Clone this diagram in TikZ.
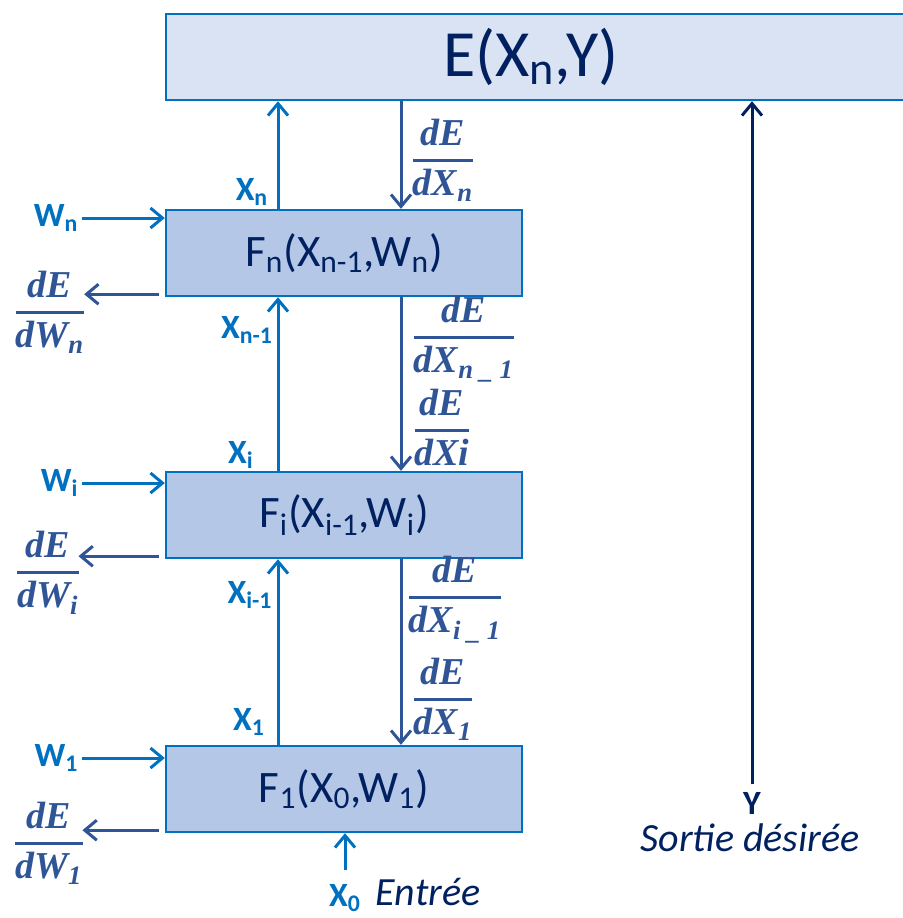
\documentclass[tikz,border=0pt]{standalone}
\usepackage{amsmath,amssymb}
\usepackage{fontspec}
\setmainfont{Carlito}
\newfontfamily\gradfont{Liberation Serif}
\usetikzlibrary{arrows.meta,positioning}

\definecolor{lightblue}{HTML}{0070C0}
\definecolor{darkblue}{HTML}{2F5597}
\definecolor{navy}{HTML}{002060}
\definecolor{costfill}{HTML}{DAE3F3}
\definecolor{layerfill}{HTML}{B4C7E7}

\newcommand{\dEfrac}[1]{$\genfrac{}{}{1.3pt}{0}{\text{\gradfont\bfseries\itshape dE}}{\text{\gradfont\bfseries\itshape #1}}$}

\begin{document}
\begin{tikzpicture}[->,>={Straight Barb[length=6pt,width=10pt]},x=0.5pt,y=-0.5pt,
                    line width=1.5pt,
                    cost node/.style={rectangle,draw=lightblue,fill=costfill,minimum width=373pt,
                                      minimum height=43pt,inner sep=0pt,line width=1.2pt},
                    layer node/.style={rectangle,draw=lightblue,fill=layerfill,minimum width=178pt,
                                       minimum height=43pt,inner sep=0pt,text=navy,line width=1.2pt,
                                       font=\fontsize{22.5}{27}\selectfont},
                    var node/.style={text=lightblue,inner sep=1pt,font=\bfseries\fontsize{17}{20}\selectfont},
                    grad node/.style={text=darkblue,inner sep=0pt,anchor=base,
                                      font=\fontsize{19}{23}\selectfont},
                    note node/.style={text=navy,inner sep=1pt,font=\itshape\fontsize{20}{24}\selectfont},
                    fwd/.style={draw=lightblue},
                    bwd/.style={draw=darkblue}]

  \useasboundingbox (0,0) rectangle (903,918);

  % cost and layers
  \node[cost node] (e) at (539,57) {};
  \node[text=navy,font=\fontsize{33}{40}\selectfont] (etxt) at (531,57) {E(X\textsubscript{n},Y)};
  \node[layer node] (fn) at (344,253) {F\textsubscript{n}(X\textsubscript{n-1},W\textsubscript{n})};
  \node[layer node] (fi) at (344,515) {F\textsubscript{i}(X\textsubscript{i-1},W\textsubscript{i})};
  \node[layer node] (f1) at (344,789) {F\textsubscript{1}(X\textsubscript{0},W\textsubscript{1})};

  \coordinate (upx) at (278,0);
  \coordinate (dnx) at (401,0);

  % forward pass
  \draw[fwd] (fn.north -| upx) -- (e.south -| upx);
  \draw[fwd] (fi.north -| upx) -- (fn.south -| upx);
  \draw[fwd] (f1.north -| upx) -- (fi.south -| upx);

  \node[var node] (xn)  at (252,192) {X\textsubscript{n}};
  \node[var node] (xn1) at (247,330) {X\textsubscript{n-1}};
  \node[var node] (xi)  at (241,455) {X\textsubscript{i}};
  \node[var node] (xi1) at (250,595) {X\textsubscript{i-1}};
  \node[var node] (x1)  at (249,722) {X\textsubscript{1}};
  \node[var node,anchor=base] (x0) at (345,906) {X\textsubscript{0}};
  \node[note node,anchor=base] (entree) at (428,905) {Entrée};
  \draw[fwd] ([yshift=5pt]x0.north) -- (x0.north |- f1.south);

  % weights
  \node[var node,anchor=east] (wn) at (82,218) {W\textsubscript{n}};
  \node[var node,anchor=east] (wi) at (82,483) {W\textsubscript{i}};
  \node[var node,anchor=east] (w1) at (82,758) {W\textsubscript{1}};
  \draw[fwd] (wn.east) -- (wn.east -| fn.west);
  \draw[fwd] (wi.east) -- (wi.east -| fi.west);
  \draw[fwd] (w1.east) -- (w1.east -| f1.west);

  % backward pass
  \draw[bwd] (e.south -| dnx) -- (fn.north -| dnx);
  \draw[bwd] (fn.south -| dnx) -- (fi.north -| dnx);
  \draw[bwd] (fi.south -| dnx) -- (f1.north -| dnx);

  \node[grad node] (dxn)  at (443,169) {\dEfrac{dX\textsubscript{n}}};
  \node[grad node] (dxn1) at (464,346) {\dEfrac{dX\textsubscript{n \_ 1}}};
  \node[grad node] (dxi)  at (442,439) {\dEfrac{dXi}};
  \node[grad node] (dxi1) at (455,606) {\dEfrac{dX\textsubscript{i \_ 1}}};
  \node[grad node] (dx1)  at (443,708) {\dEfrac{dX\textsubscript{1}}};

  \node[grad node] (dwn) at (50,321) {\dEfrac{dW\textsubscript{n}}};
  \node[grad node] (dwi) at (48,581) {\dEfrac{dW\textsubscript{i}}};
  \node[grad node] (dw1) at (49,852) {\dEfrac{dW\textsubscript{1}}};

  \coordinate (bn) at ([shift={(-3pt,1.5pt)}]fn.south west);
  \coordinate (bi) at ([shift={(-3pt,1.5pt)}]fi.south west);
  \coordinate (b1) at ([shift={(-3pt,1.5pt)}]f1.south west);
  \draw[bwd] (bn) -- ([xshift=-2pt]bn -| dwn.east);
  \draw[bwd] (bi) -- ([xshift=-2pt]bi -| dwi.east);
  \draw[bwd] (b1) -- ([xshift=-2pt]b1 -| dw1.east);

  % target
  \node[text=navy,inner sep=1pt,font=\bfseries\fontsize{17}{20}\selectfont] (ylab) at (752,803) {Y};
  \node[note node] (sortie) at (750,838) {Sortie désirée};
  \draw[navy] ([yshift=2pt]ylab.north) -- (ylab.north |- e.south);
\end{tikzpicture}
\end{document}
